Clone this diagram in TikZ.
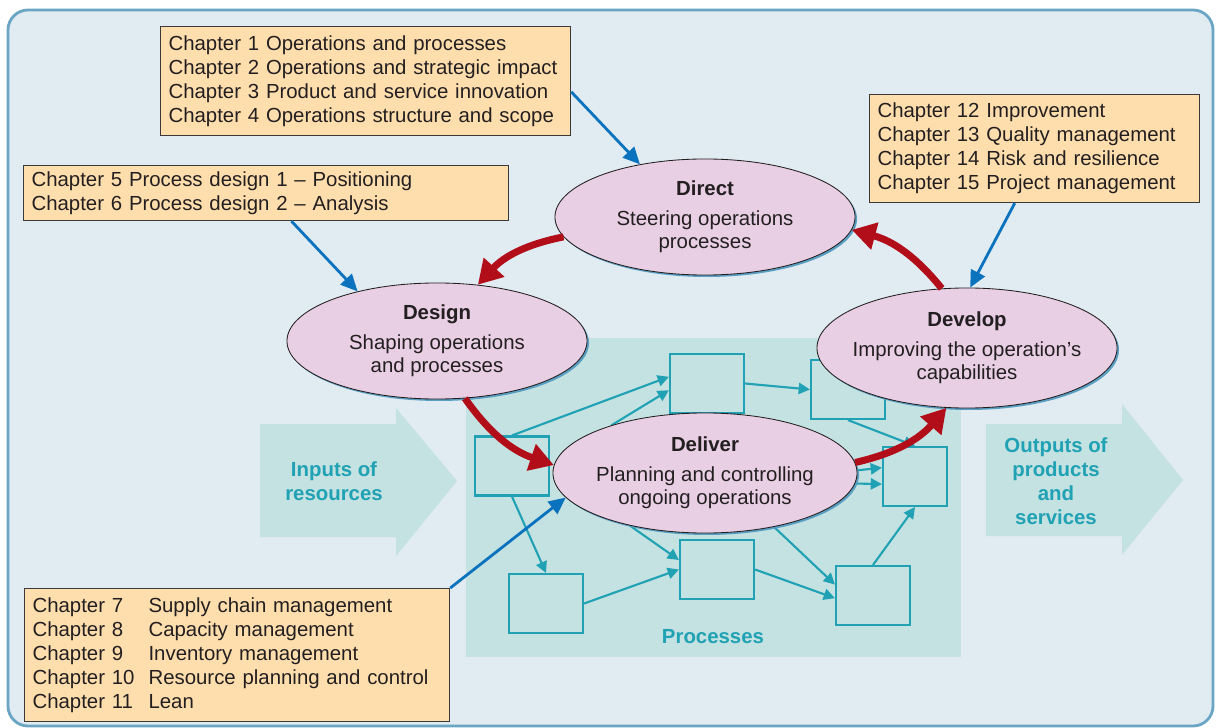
\documentclass[tikz,border=0pt]{standalone}
\usepackage{fontspec}
\setmainfont{Liberation Sans}
\usepackage{xcolor}
\usepackage{tikz}
\usetikzlibrary{positioning,calc,shapes.geometric,arrows.meta,backgrounds,shadows}

\definecolor{bgfill}{HTML}{E0EBF2}
\definecolor{framecol}{HTML}{6AA6C3}
\definecolor{panelfill}{HTML}{C4E2E1}
\definecolor{procline}{HTML}{20A1B4}
\definecolor{actfill}{HTML}{E8CFE3}
\definecolor{shadowblue}{HTML}{5A9EC2}
\definecolor{cyclered}{HTML}{B20E1A}
\definecolor{linkblue}{HTML}{0B72BE}
\definecolor{chapfill}{HTML}{FFDEAE}
\definecolor{boxline}{HTML}{3A3A3A}
\definecolor{ink}{HTML}{231F20}

\pgfdeclarelayer{links}
\pgfsetlayers{background,links,main}

\begin{document}
\begin{tikzpicture}[
	x=0.025cm, y=-0.025cm,
	font=\fontsize{14.5}{17}\selectfont,
	% four activities
	activity/.style={ellipse, draw=ink, line width=0.6pt, fill=actfill,
		minimum width=7.5cm, minimum height=2.9cm, inner xsep=-0.4cm, inner ysep=0pt,
		align=center, text=ink,
		drop shadow={shadow xshift=1.4pt, shadow yshift=-1.4pt, fill=shadowblue, opacity=1}},
	% chapter lists
	chapbox/.style={draw=boxline, fill=chapfill, line width=0.8pt,
		inner xsep=0.2cm, inner ysep=0pt, align=left, anchor=north west, text=ink},
	% small process boxes
	procbox/.style={draw=procline, fill=panelfill, line width=1.5pt,
		minimum width=1.85cm, minimum height=1.475cm},
	flow_arrow/.style={-{Triangle[length=8pt,width=8pt]}, procline, line width=1.5pt},
	cycle_arrow/.style={-{Triangle[length=17pt,width=19pt]}, cyclered, line width=5pt},
	link_arrow/.style={-{Triangle[length=12pt,width=11pt]}, linkblue, line width=2pt},
	biglabel/.style={text=procline, font=\fontsize{14.5}{17}\selectfont\bfseries, align=center}
	]
	\useasboundingbox (0,0) rectangle (1216,728);
	
	% --- FRAME, PANEL, BIG ARROWS ---
	\begin{pgfonlayer}{background}
		\draw[fill=bgfill, draw=framecol, line width=2pt, rounded corners=0.5cm] (8,10) rectangle (1213,726);
		\fill[panelfill] (466,338) rectangle (961,657);
		\fill[panelfill] (260,424) -- (396,424) -- (396,408) -- (457,481) -- (396,556) -- (396,537) -- (260,537) -- cycle;
		\fill[panelfill] (986,424) -- (1122,424) -- (1122,404) -- (1183,480) -- (1122,555) -- (1122,536) -- (986,536) -- cycle;
	\end{pgfonlayer}
	
	\node[biglabel] (inputs) at (334,481) {Inputs of\\resources};
	\node[biglabel] (outputs) at (1056,481) {Outputs of\\products\\and\\services};
	\node[biglabel] (processes) at (713,637) {Processes};
	
	% --- PROCESS BOXES ---
	\node[procbox] (b1) at (512,466) {};
	\node[procbox] (b2) at (707,383.5) {};
	\node[procbox] (b3) at (848,389.5) {};
	\node[procbox, minimum width=1.6cm] (b4) at (915,476.5) {};
	\node[procbox] (b5) at (546,603.5) {};
	\node[procbox] (b6) at (717,569.5) {};
	\node[procbox] (b7) at (873,595.5) {};
	
	% --- ACTIVITIES ---
	\node[activity] (direct) at (705,217) {\textbf{Direct}\\[4pt]Steering operations\\processes};
	\node[activity] (design) at (437,341) {\textbf{Design}\\[4pt]Shaping operations\\and processes};
	\node[activity, minimum height=3cm] (develop) at (967,348) {\textbf{Develop}\\[4pt]Improving the operation’s\\capabilities};
	\node[activity, minimum width=7.6cm, minimum height=3cm] (deliver) at (705,473) {\textbf{Deliver}\\[4pt]Planning and controlling\\ongoing operations};
	
	% --- FLOWS BETWEEN PROCESSES ---
	\begin{pgfonlayer}{links}
		\draw[flow_arrow] (b1.north) -- (b2.170);
		\draw[flow_arrow] (deliver.153) -- (b2.190);
		\draw[flow_arrow] (b2.east) -- (b3.west);
		\draw[flow_arrow] (b3.south) -- (b4.north);
		\draw[flow_arrow] (deliver.1) -- (b4.165);
		\draw[flow_arrow] (deliver.-4) -- (b4.193);
		\draw[flow_arrow] (b1.south) -- (b5.north);
		\draw[flow_arrow] (b5.east) -- (b6.west);
		\draw[flow_arrow] (deliver.215) -- (b6.166);
		\draw[flow_arrow] (b6.east) -- (b7.184);
		\draw[flow_arrow] (deliver.-38) -- (b7.164);
		\draw[flow_arrow] (b7.north) -- (b4.south);
	\end{pgfonlayer}
	
	% --- CHAPTER LISTS ---
	\node[chapbox, text width=9.85cm, minimum height=2.725cm] (chA) at (160,26)
	{Chapter 1 Operations and processes\\
		Chapter 2 Operations and strategic impact\\
		Chapter 3 Product and service innovation\\
		Chapter 4 Operations structure and scope};
	\node[chapbox, text width=11.725cm, minimum height=1.375cm] (chB) at (23,165)
	{Chapter 5 Process design 1 – Positioning\\
		Chapter 6 Process design 2 – Analysis};
	\node[chapbox, text width=7.85cm, minimum height=2.7cm] (chC) at (869,94)
	{Chapter 12 Improvement\\
		Chapter 13 Quality management\\
		Chapter 14 Risk and resilience\\
		Chapter 15 Project management};
	\node[chapbox, text width=10.225cm, minimum height=3.325cm] (chD) at (24,588)
	{\makebox[2.9cm][l]{Chapter 7}Supply chain management\\
		\makebox[2.9cm][l]{Chapter 8}Capacity management\\
		\makebox[2.9cm][l]{Chapter 9}Inventory management\\
		\makebox[2.9cm][l]{Chapter 10}Resource planning and control\\
		\makebox[2.9cm][l]{Chapter 11}Lean};
	
	% --- CYCLE ---
	\draw[cycle_arrow] (direct.188) to[bend right=18] (design.54);
	\draw[cycle_arrow] (design.-64) to[bend right=18] (deliver.177);
	\draw[cycle_arrow] (deliver.4) to[bend right=18] (develop.-109);
	\draw[cycle_arrow] (develop.113) to[bend right=18] (direct.-5);
	
	% --- CHAPTERS TO ACTIVITIES ---
	\draw[link_arrow] (chA.-3) -- (direct.141);
	\draw[link_arrow] (chB.-48) -- (design.148);
	\draw[link_arrow] (chC.250) -- (develop.87);
	\draw[link_arrow] (chD.north east) -- (deliver.190);
	
\end{tikzpicture}
\end{document}
